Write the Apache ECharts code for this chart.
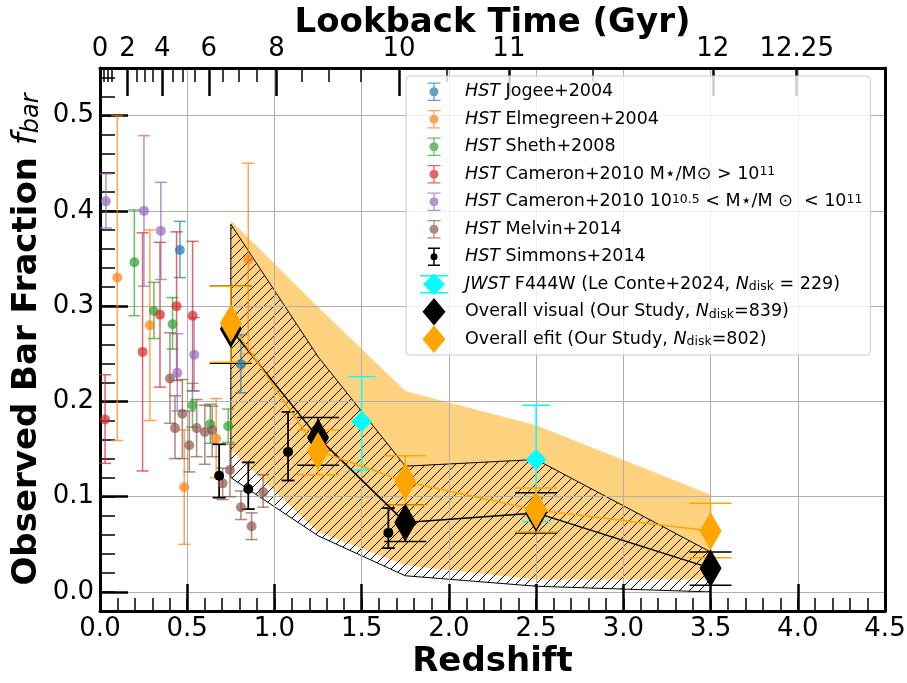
<!DOCTYPE html>
<html>
<head>
<meta charset="utf-8">
<script src="https://cdn.jsdelivr.net/npm/echarts@6/dist/echarts.min.js"></script>
<style>
  html, body { margin: 0; padding: 0; background: #fff; }
  #chart { width: 907px; height: 683px; }
</style>
</head>
<body>
<div id="chart"></div>
<script>
// ---- data ----
// HST Jogee+2004
const jogeeZ  = [0.458, 0.808];
const jogeeF  = [0.359, 0.239];
const jogeeLo = [0.330, 0.209];
const jogeeHi = [0.389, 0.270];
// HST Elmegreen+2004
const elmZ  = [0.099, 0.286, 0.483, 0.666, 0.850];
const elmF  = [0.330, 0.280, 0.110, 0.161, 0.349];
const elmLo = [0.159, 0.180, 0.050, 0.120, 0.250];
const elmHi = [0.500, 0.380, 0.170, 0.203, 0.450];
// HST Sheth+2008
const shethZ  = [0.197, 0.309, 0.416, 0.530, 0.632, 0.735];
const shethF  = [0.346, 0.295, 0.281, 0.196, 0.176, 0.174];
const shethLo = [0.290, 0.266, 0.255, 0.173, 0.156, 0.157];
const shethHi = [0.401, 0.325, 0.309, 0.219, 0.197, 0.192];
// HST Cameron+2010, M* > 1e11
const camHiZ  = [0.029, 0.244, 0.344, 0.439, 0.531];
const camHiF  = [0.181, 0.252, 0.291, 0.300, 0.290];
const camHiLo = [0.135, 0.127, 0.215, 0.222, 0.211];
const camHiHi = [0.228, 0.377, 0.367, 0.378, 0.368];
// HST Cameron+2010, 1e10.5 < M* < 1e11
const camMidZ  = [0.034, 0.252, 0.349, 0.443, 0.540];
const camMidF  = [0.410, 0.400, 0.379, 0.230, 0.249];
const camMidLo = [0.382, 0.321, 0.328, 0.190, 0.211];
const camMidHi = [0.439, 0.479, 0.430, 0.271, 0.288];
// HST Melvin+2014
const melZ  = [0.401, 0.430, 0.472, 0.512, 0.554, 0.601, 0.643, 0.703, 0.745, 0.808, 0.869, 0.935];
const melF  = [0.224, 0.172, 0.187, 0.154, 0.172, 0.168, 0.170, 0.114, 0.128, 0.089, 0.069, 0.105];
const melLo = [0.177, 0.140, 0.140, 0.126, 0.142, 0.134, 0.142, 0.097, 0.100, 0.076, 0.055, 0.089];
const melHi = [0.272, 0.206, 0.223, 0.190, 0.202, 0.196, 0.195, 0.130, 0.155, 0.106, 0.083, 0.123];
// HST Simmons+2014
const simZ  = [0.683, 0.850, 1.078, 1.653];
const simF  = [0.122, 0.108, 0.147, 0.062];
const simLo = [0.099, 0.087, 0.117, 0.046];
const simHi = [0.155, 0.136, 0.189, 0.088];
// JWST F444W (Le Conte+2024)
const jwstZ  = [1.5, 2.5];
const jwstF  = [0.179, 0.139];
const jwstLo = [0.128, 0.074];
const jwstHi = [0.226, 0.196];
// Our study
const studyZ = [0.75, 1.25, 1.75, 2.5, 3.5];
const visF   = [0.276, 0.162, 0.073, 0.083, 0.025];
const visLo  = [0.240, 0.133, 0.053, 0.062, 0.007];
const visHi  = [0.321, 0.183, 0.091, 0.104, 0.042];
const efitF  = [0.282, 0.148, 0.116, 0.086, 0.064];
const efitLo = [0.241, 0.123, 0.091, 0.063, 0.036];
const efitHi = [0.321, 0.170, 0.143, 0.109, 0.093];
// shaded ranges
const visBandLo  = [0.120, 0.059, 0.017, 0.006, 0.000];
const visBandHi  = [0.386, 0.247, 0.132, 0.139, 0.042];
const efitBandLo = [0.149, 0.063, 0.028, 0.013, 0.013];
const efitBandHi = [0.390, 0.299, 0.211, 0.175, 0.102];

// ticks
const yMajor = [0, 0.1, 0.2, 0.3, 0.4, 0.5];
const topMajorZ = [0, 0.158, 0.357, 0.624, 1.012, 1.714, 2.344, 3.513, 3.994];
const topMajorLabels = ['0', '2', '4', '6', '8', '10', '11', '12', '12.25'];
const topMinorZ = [0.023, 0.044, 0.069, 0.212, 0.256, 0.302, 0.416, 0.474, 0.546,
                   0.703, 0.798, 0.901, 1.155, 1.312, 1.495, 1.989, 2.822];

const FONT = 'DejaVu Sans';

/* hatch pattern for the visual range */
function makeHatch() {
    let c = document.createElement('canvas');
    c.width = 10; c.height = 10;
    let g = c.getContext('2d');
    g.strokeStyle = '#000';
    g.lineWidth = 1;
    g.beginPath();
    g.moveTo(0, 10); g.lineTo(10, 0);
    g.moveTo(-5, 5); g.lineTo(5, -5);
    g.moveTo(5, 15); g.lineTo(15, 5);
    g.stroke();
    return c;
}

function bandRenderer(z, lo, hi, style) {
    return function (params, api) {
        if (params.dataIndex !== 0) return;
        let pts = [];
        for (let i = 0; i < z.length; i++) pts.push(api.coord([z[i], hi[i]]));
        for (let i = z.length - 1; i >= 0; i--) pts.push(api.coord([z[i], lo[i]]));
        return { type: 'polygon', shape: { points: pts }, style: style };
    };
}

function errRenderer(capHalf, lw, color) {
    return function (params, api) {
        let x = api.value(0);
        let top = api.coord([x, api.value(3)]);
        let bot = api.coord([x, api.value(2)]);
        let st = { stroke: color, lineWidth: lw, fill: null };
        return {
            type: 'group',
            children: [
                { type: 'line', shape: { x1: top[0], y1: top[1], x2: bot[0], y2: bot[1] }, style: st },
                { type: 'line', shape: { x1: top[0] - capHalf, y1: top[1], x2: top[0] + capHalf, y2: top[1] }, style: st },
                { type: 'line', shape: { x1: bot[0] - capHalf, y1: bot[1], x2: bot[0] + capHalf, y2: bot[1] }, style: st }
            ]
        };
    };
}

function pointGroup(name, z, f, lo, hi, color, opt) {
    return [
        {
            name: name, type: 'custom', z: 4, silent: true,
            renderItem: errRenderer(opt.cap, opt.lw, color),
            data: z.map((v, i) => [v, f[i], lo[i], hi[i]])
        },
        {
            name: name, type: 'scatter', z: 4, silent: true,
            symbol: opt.symbol, symbolSize: opt.size,
            itemStyle: { color: color, opacity: 1 },
            data: z.map((v, i) => [v, f[i]])
        }
    ];
}

// legend icons (52 x 27.5 box, corner dots pin the extent)
const PIN = 'M0,0h0.01v0.01h-0.01z M51.99,27.49h0.01v0.01h-0.01z ';
const ICON_ERR = 'path://' + PIN +
    'M19.5,4.5h13v1.3h-13z M19.5,21.7h13v1.3h-13z M25.35,4.5h1.3v18.5h-1.3z ' +
    'M26,9.25a4.5,4.5 0 1,1 0,9a4.5,4.5 0 1,1 0,-9z';
const ICON_SIM = 'path://' + PIN +
    'M20,4.5h12v1.5h-12z M20,21.5h12v1.5h-12z M25.25,4.5h1.5v18.5h-1.5z ' +
    'M26,10.25a3.5,3.5 0 1,1 0,7a3.5,3.5 0 1,1 0,-7z';
const ICON_JWST = 'path://' + PIN +
    'M12,4.5h28v1.5h-28z M12,21.5h28v1.5h-28z M25.25,4.5h1.5v18.5h-1.5z ' +
    'M26,3L37,13.75L26,24.5L15,13.75z';
const ICON_DIA = 'path://' + PIN + 'M26,0L37.5,13.75L26,27.5L14.5,13.75z';

const C_BLUE = 'rgba(31,119,180,0.7)';
const C_ORANGE = 'rgba(255,127,14,0.7)';
const C_GREEN = 'rgba(44,160,44,0.7)';
const C_RED = 'rgba(214,39,40,0.7)';
const C_PURPLE = 'rgba(148,103,189,0.7)';
const C_BROWN = 'rgba(140,86,75,0.7)';

const legendText = {
    'Jogee': '{i|HST} Jogee+2004',
    'Elmegreen': '{i|HST} Elmegreen+2004',
    'Sheth': '{i|HST} Sheth+2008',
    'CameronHi': '{i|HST} Cameron+2010 M⋆/M⊙ > 10{sup|11}',
    'CameronMid': '{i|HST} Cameron+2010 10{sup|10.5} < M⋆/M ⊙  < 10{sup|11}',
    'Melvin': '{i|HST} Melvin+2014',
    'Simmons': '{i|HST} Simmons+2014',
    'JWST': '{i|JWST} F444W (Le Conte+2024, {i|N}{sub|disk} = 229)',
    'Visual': 'Overall visual (Our Study, {i|N}{sub|disk}=839)',
    'Efit': 'Overall efit (Our Study, {i|N}{sub|disk}=802)'
};

let hatch = makeHatch();

let series = [
    {
        type: 'custom', z: 2, silent: true,
        renderItem: bandRenderer(studyZ, efitBandLo, efitBandHi, { fill: 'rgba(255,165,0,0.5)', stroke: null }),
        data: studyZ.map((v, i) => [v, efitBandLo[i], efitBandHi[i]])
    },
    {
        type: 'custom', z: 2, silent: true,
        renderItem: bandRenderer(studyZ, visBandLo, visBandHi, {
            fill: { image: hatch, repeat: 'repeat' }, stroke: '#000', lineWidth: 1
        }),
        data: studyZ.map((v, i) => [v, visBandLo[i], visBandHi[i]])
    }
];
series = series.concat(
    pointGroup('Jogee', jogeeZ, jogeeF, jogeeLo, jogeeHi, C_BLUE, { cap: 6, lw: 1.5, symbol: 'circle', size: 10 }),
    pointGroup('Elmegreen', elmZ, elmF, elmLo, elmHi, C_ORANGE, { cap: 6, lw: 1.5, symbol: 'circle', size: 10 }),
    pointGroup('Sheth', shethZ, shethF, shethLo, shethHi, C_GREEN, { cap: 6, lw: 1.5, symbol: 'circle', size: 10 }),
    pointGroup('CameronHi', camHiZ, camHiF, camHiLo, camHiHi, C_RED, { cap: 6, lw: 1.5, symbol: 'circle', size: 10 }),
    pointGroup('CameronMid', camMidZ, camMidF, camMidLo, camMidHi, C_PURPLE, { cap: 6, lw: 1.5, symbol: 'circle', size: 10 }),
    pointGroup('Melvin', melZ, melF, melLo, melHi, C_BROWN, { cap: 6, lw: 1.5, symbol: 'circle', size: 10 }),
    pointGroup('Simmons', simZ, simF, simLo, simHi, '#000', { cap: 6.5, lw: 1.8, symbol: 'circle', size: 10 }),
    pointGroup('JWST', jwstZ, jwstF, jwstLo, jwstHi, '#00ffff', { cap: 14, lw: 1.5, symbol: 'diamond', size: [21, 21] })
);
series.push({
    name: 'Visual', type: 'line', z: 4, silent: true, symbol: 'none',
    lineStyle: { color: '#000', width: 1.5 },
    data: studyZ.map((v, i) => [v, visF[i]])
});
series = series.concat(
    pointGroup('Visual', studyZ, visF, visLo, visHi, '#000', { cap: 21, lw: 1.5, symbol: 'diamond', size: [22, 38] })
);
series.push({
    name: 'Efit', type: 'line', z: 4, silent: true, symbol: 'none',
    lineStyle: { color: '#ffa500', width: 1.5 },
    data: studyZ.map((v, i) => [v, efitF[i]])
});
series = series.concat(
    pointGroup('Efit', studyZ, efitF, efitLo, efitHi, '#ffa500', { cap: 21, lw: 1.5, symbol: 'diamond', size: [22, 38] })
);

let chart = echarts.init(document.getElementById('chart'));
chart.setOption({
    animation: false,
    backgroundColor: '#fff',
    textStyle: { fontFamily: FONT },
    grid: { left: 100, right: 22, top: 68, bottom: 72, containLabel: false, outerBoundsMode: 'none' },
    xAxis: [
        {
            type: 'value', position: 'bottom', min: 0, max: 4.5, interval: 0.5, z: 3,
            name: 'Redshift', nameLocation: 'middle', nameGap: 34, nameMoveOverlap: false,
            nameTextStyle: { fontFamily: FONT, fontSize: 34, fontWeight: 'bold', color: '#000' },
            axisLine: { onZero: false, lineStyle: { color: '#000', width: 3 } },
            axisTick: { inside: true, length: 27, lineStyle: { color: '#000', width: 2.5 } },
            axisLabel: { fontFamily: FONT, fontSize: 26, color: '#000', margin: 5, formatter: v => v.toFixed(1) },
            splitLine: { show: true, lineStyle: { color: '#b0b0b0', width: 1 } }
        },
        {
            type: 'value', position: 'bottom', min: 0, max: 4.5, interval: 0.1, z: 3,
            axisLine: { show: false, onZero: false },
            axisTick: { inside: true, length: 13, lineStyle: { color: '#000', width: 1.5 } },
            axisLabel: { show: false },
            splitLine: { show: false }
        },
        {
            type: 'value', position: 'top', min: 0, max: 4.5, z: 3,
            name: 'Lookback Time (Gyr)', nameLocation: 'middle', nameGap: 28, nameMoveOverlap: false,
            nameTextStyle: { fontFamily: FONT, fontSize: 34, fontWeight: 'bold', color: '#000' },
            axisLine: { onZero: false, lineStyle: { color: '#000', width: 3 } },
            axisTick: { inside: true, length: 28, customValues: topMajorZ, lineStyle: { color: '#000', width: 2.5 } },
            axisLabel: {
                fontFamily: FONT, fontSize: 26, color: '#000', margin: 6, customValues: topMajorZ,
                formatter: function (v) {
                    for (let i = 0; i < topMajorZ.length; i++) {
                        if (Math.abs(topMajorZ[i] - v) < 1e-6) return topMajorLabels[i];
                    }
                    return '';
                }
            },
            splitLine: { show: false }
        },
        {
            type: 'value', position: 'top', min: 0, max: 4.5, z: 3,
            axisLine: { show: false, onZero: false },
            axisTick: { inside: true, length: 14, customValues: topMinorZ, lineStyle: { color: '#000', width: 1.5 } },
            axisLabel: { show: false },
            splitLine: { show: false }
        }
    ],
    yAxis: [
        {
            type: 'value', position: 'left', min: -0.02, max: 0.55, z: 3,
            name: '{b|Observed Bar Fraction }{f|f}{s|bar}', nameLocation: 'middle', nameGap: 56, nameMoveOverlap: false,
            nameTextStyle: {
                color: '#000',
                rich: {
                    b: { fontFamily: FONT, fontSize: 34, fontWeight: 'bold', color: '#000' },
                    f: { fontFamily: FONT, fontSize: 34, fontStyle: 'italic', color: '#000' },
                    s: { fontFamily: FONT, fontSize: 24, fontStyle: 'italic', color: '#000', verticalAlign: 'bottom' }
                }
            },
            axisLine: { onZero: false, lineStyle: { color: '#000', width: 3 } },
            axisTick: { inside: true, length: 28, customValues: yMajor, lineStyle: { color: '#000', width: 2.5 } },
            axisLabel: { fontFamily: FONT, fontSize: 26, color: '#000', margin: 6, customValues: yMajor, formatter: v => v.toFixed(1) },
            splitLine: { show: true, lineStyle: { color: '#b0b0b0', width: 1 } }
        },
        {
            type: 'value', position: 'left', min: -0.02, max: 0.55, interval: 0.02, z: 3,
            axisLine: { show: false, onZero: false },
            axisTick: { inside: true, length: 15, lineStyle: { color: '#000', width: 1.5 } },
            axisLabel: { show: false },
            splitLine: { show: false }
        },
        {
            type: 'value', position: 'right', min: -0.02, max: 0.55, z: 3,
            axisLine: { show: true, onZero: false, lineStyle: { color: '#000', width: 3 } },
            axisTick: { show: false },
            axisLabel: { show: false },
            splitLine: { show: false }
        }
    ],
    legend: {
        orient: 'vertical', left: 406, top: 76, z: 6,
        itemWidth: 52, itemHeight: 27.5, itemGap: 0,
        padding: [2, 8, 2, 2],
        backgroundColor: 'rgba(255,255,255,0.8)',
        borderColor: '#cccccc', borderWidth: 1, borderRadius: 4,
        selectedMode: false,
        textStyle: {
            fontFamily: FONT, fontSize: 17.5, color: '#000',
            rich: {
                i: { fontFamily: FONT, fontSize: 17.5, fontStyle: 'italic', color: '#000' },
                sup: { fontFamily: FONT, fontSize: 12.5, color: '#000', verticalAlign: 'top' },
                sub: { fontFamily: FONT, fontSize: 12.5, color: '#000', verticalAlign: 'bottom' }
            }
        },
        formatter: name => legendText[name],
        data: [
            { name: 'Jogee', icon: ICON_ERR, itemStyle: { color: C_BLUE } },
            { name: 'Elmegreen', icon: ICON_ERR, itemStyle: { color: C_ORANGE } },
            { name: 'Sheth', icon: ICON_ERR, itemStyle: { color: C_GREEN } },
            { name: 'CameronHi', icon: ICON_ERR, itemStyle: { color: C_RED } },
            { name: 'CameronMid', icon: ICON_ERR, itemStyle: { color: C_PURPLE } },
            { name: 'Melvin', icon: ICON_ERR, itemStyle: { color: C_BROWN } },
            { name: 'Simmons', icon: ICON_SIM, itemStyle: { color: '#000' } },
            { name: 'JWST', icon: ICON_JWST, itemStyle: { color: '#00ffff' } },
            { name: 'Visual', icon: ICON_DIA, itemStyle: { color: '#000' } },
            { name: 'Efit', icon: ICON_DIA, itemStyle: { color: '#ffa500' } }
        ]
    },
    series: series
});
</script>
</body>
</html>
